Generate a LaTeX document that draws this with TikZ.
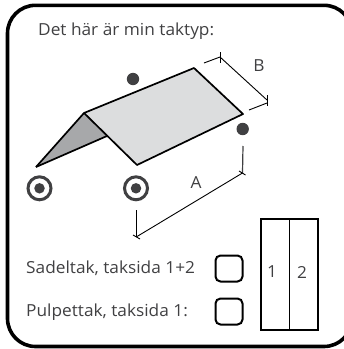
\documentclass[tikz,border=0pt]{standalone}
\usepackage{fontspec}
\setmainfont{Open Sans}[FakeStretch=1.04]
\definecolor{ink}{HTML}{404042}
\definecolor{roofdark}{HTML}{A7A8AA}
\definecolor{rooflight}{HTML}{DCDDDE}
\begin{document}
\begin{tikzpicture}[x=1pt,y=-1pt,
  edge/.style={draw=black,line width=1.7pt,line join=round},
  dim/.style={draw=black,line width=0.9pt},
  lbl/.style={anchor=west,inner sep=0pt,text=ink,font=\fontsize{16.6}{18}\selectfont},
  num/.style={anchor=center,inner sep=0pt,text=ink,font=\fontsize{16.6}{18}\selectfont},
  tick/.style={circle,fill=ink,inner sep=0pt,minimum size=12.4pt},
  ring/.style={circle,draw=ink,line width=3pt,fill=white,inner sep=0pt,minimum size=23pt},
  chk/.style={draw=black,line width=2pt,rounded corners=5pt,inner sep=0pt,minimum width=27pt,minimum height=26pt}]
\useasboundingbox (0,0) rectangle (344,349);
\draw[line width=3.6pt,rounded corners=28pt] (7.5,5.3) rectangle (352,346.5);
\coordinate (L) at (36,167); \coordinate (R) at (84,113); \coordinate (S) at (194,68);
\coordinate (E) at (243,114); \coordinate (F) at (137,165); \coordinate (J) at (107,136);
\fill[roofdark] (L)--(R)--(J)--cycle;
\fill[rooflight] (R)--(S)--(E)--(F)--cycle;
\draw[edge] (L)--(R)--(S)--(E)--(F)--(R);
\draw[edge] (L)--(J);
\node[tick] (d1) at (133,79) {}; \node[tick] (d2) at (242.7,129) {};
\node[ring] (r1) at (39.5,188.3) {}; \node[tick,minimum size=10.5pt] at (r1) {};
\node[ring] (r2) at (136,188.3) {}; \node[tick,minimum size=10.5pt] at (r2) {};
\node[lbl] (t) at (38,31) {Det här är min taktyp:};
\node[lbl] at (26,268) {Sadeltak, taksida 1+2};
\node[lbl] at (26,312) {Pulpettak, taksida 1:};
\node[num] at (259,66) {B}; \node[num] at (196,183) {A};
\coordinate (b1) at (220,57); \coordinate (b2) at (267,100);
\draw[dim] (b1)--(b2);
\draw[dim] (204,63)--(220,57); \draw[dim] (220,52)--(220,63);
\draw[dim] (249,110)--(267,103); \draw[dim] (267,95)--(267,106);
\coordinate (a1) at (136.7,236.7); \coordinate (a2) at (242.5,173);
\draw[dim] (a1)--(a2);
\draw[dim] (136.7,210)--(a1); \draw[dim] (133,235)--(140,239);
\draw[dim,draw=ink,line width=1.2pt] (243,146)--(a2); \draw[dim] (239,171)--(245.5,175);
\node[chk] (c1) at (229,268.5) {}; \node[chk] (c2) at (229,311.5) {};
\draw[line width=1.7pt] (261,219) rectangle (318,330);
\draw[line width=0.9pt] (289.5,219)--(289.5,330);
\node[num] at (272,272) {1}; \node[num] at (302,272) {2};
\end{tikzpicture}
\end{document}
